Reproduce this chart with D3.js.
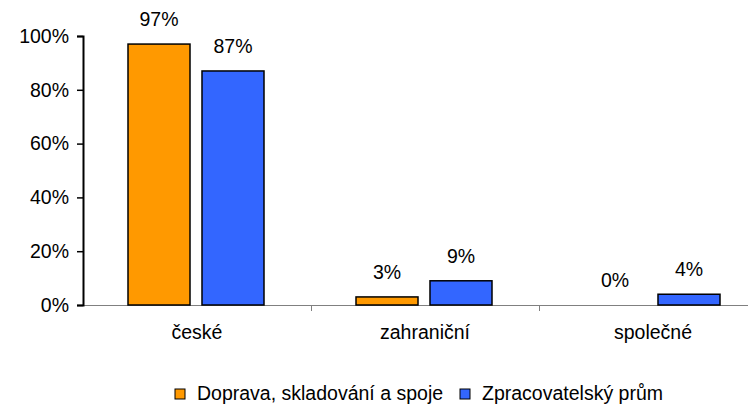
<!DOCTYPE html>
<html>
<head>
<meta charset="utf-8">
<script src="https://cdn.jsdelivr.net/npm/d3@7"></script>
<style>
    html, body { margin: 0; padding: 0; background: #fff; }
    svg text { font-family: "Liberation Sans", Arial, sans-serif; fill: #000; }
</style>
</head>
<body>
<div id="chart"></div>
<script>
// Data
var categories = ['české', 'zahraniční', 'společné'];
var seriesNames = ['Doprava, skladování a spoje', 'Zpracovatelský prům'];
var doprava = [97, 3, 0];
var zpracovatelsky = [87, 9, 4];
var yTicks = [0, 20, 40, 60, 80, 100];

var seriesColors = ['#FF9900', '#3366FF'];
var values = [doprava, zpracovatelsky];

var width = 748,
    height = 404;
var margin = {top: 36, left: 83, bottom: 305, right: 767};
var fontSize = '19.5px';

var svg = d3.select('#chart')
    .append('svg')
    .attr('width', width)
    .attr('height', height);

// Scales
var x = d3.scaleBand()
    .domain(categories)
    .range([margin.left, margin.right]);
var xInner = d3.scaleBand()
    .domain(seriesNames)
    .range([45, 181])
    .paddingInner(0.162);
var y = d3.scaleLinear()
    .domain([0, 100])
    .range([margin.bottom, margin.top]);

// X axis (gray line, ticks between categories)
var xAxis = d3.axisBottom(x).tickSize(6).tickFormat('');
var gx = svg.append('g')
    .attr('transform', 'translate(0,' + margin.bottom + ')')
    .call(xAxis);
gx.select('.domain').attr('stroke', '#808080').attr('d', 'M' + margin.left + ',0.5H' + margin.right);
gx.selectAll('.tick').remove();
gx.selectAll('.cat-tick')
    .data(categories.slice(1))
    .enter()
    .append('line')
    .attr('class', 'cat-tick')
    .attr('x1', function(d) { return Math.round(x(d)) + 0.5; })
    .attr('x2', function(d) { return Math.round(x(d)) + 0.5; })
    .attr('y1', 0)
    .attr('y2', 6)
    .attr('stroke', '#808080');
gx.selectAll('.cat-label')
    .data(categories)
    .enter()
    .append('text')
    .attr('class', 'cat-label')
    .attr('x', function(d) { return x(d) + x.bandwidth() / 2; })
    .attr('y', 34)
    .attr('text-anchor', 'middle')
    .style('font-size', fontSize)
    .text(function(d) { return d; });

// Y axis
var yAxis = d3.axisLeft(y)
    .tickValues(yTicks)
    .tickSize(6)
    .tickPadding(8)
    .tickFormat(function(d) { return d + '%'; });
var gy = svg.append('g')
    .attr('transform', 'translate(' + margin.left + ',0)')
    .call(yAxis);
gy.select('.domain').attr('stroke', '#000').attr('stroke-width', 2);
gy.selectAll('.tick line').attr('stroke', '#000').attr('stroke-width', 1.5);
gy.selectAll('.tick text')
    .attr('fill', '#000')
    .style('font-size', fontSize)
    .style('font-family', '"Liberation Sans", Arial, sans-serif');

// Bars
var groups = svg.selectAll('.series')
    .data(seriesNames)
    .enter()
    .append('g')
    .attr('class', 'series');

groups.each(function(name, si) {
    var g = d3.select(this);
    var rows = categories.map(function(c, ci) { return {cat: c, value: values[si][ci]}; });

    g.selectAll('rect')
        .data(rows.filter(function(d) { return d.value > 0; }))
        .enter()
        .append('rect')
        .attr('x', function(d) { return x(d.cat) + xInner(name); })
        .attr('y', function(d) { return y(d.value); })
        .attr('width', xInner.bandwidth())
        .attr('height', function(d) { return y(0) - y(d.value); })
        .attr('fill', seriesColors[si])
        .attr('stroke', '#000')
        .attr('stroke-width', 1.5);

    // value labels
    g.selectAll('text')
        .data(rows)
        .enter()
        .append('text')
        .attr('x', function(d) { return x(d.cat) + xInner(name) + xInner.bandwidth() / 2; })
        .attr('y', function(d) { return y(d.value) - 18; })
        .attr('text-anchor', 'middle')
        .style('font-size', fontSize)
        .text(function(d) { return d.value + '%'; });
});

// Legend
var legendX = [175, 460];
var legend = svg.selectAll('.legend-item')
    .data(seriesNames)
    .enter()
    .append('g')
    .attr('class', 'legend-item')
    .attr('transform', function(d, i) { return 'translate(' + legendX[i] + ',389)'; });
legend.append('rect')
    .attr('width', 10)
    .attr('height', 10)
    .attr('fill', function(d, i) { return seriesColors[i]; })
    .attr('stroke', '#000')
    .attr('stroke-width', 1);
legend.append('text')
    .attr('x', 22)
    .attr('y', 11)
    .style('font-size', fontSize)
    .text(function(d) { return d; });
</script>
</body>
</html>
